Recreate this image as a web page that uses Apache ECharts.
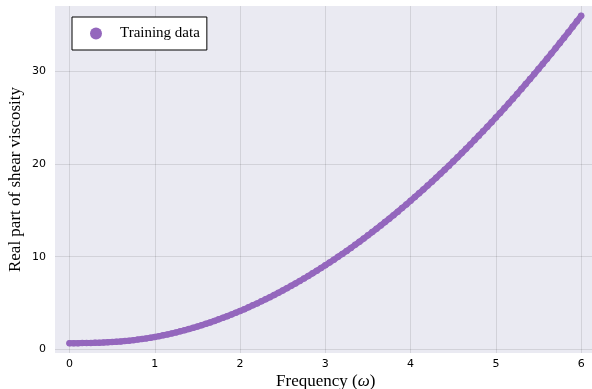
<!DOCTYPE html>
<html>
<head>
<meta charset="utf-8">
<script src="https://cdn.jsdelivr.net/npm/echarts@6/dist/echarts.min.js"></script>
<style>
html,body{margin:0;padding:0;background:#fff;}
#chart{width:592px;height:389px;}
</style>
</head>
<body>
<div id="chart"></div>
<script>
// Frequency values (omega) of the training data
const omega = [0.00,0.05,0.10,0.15,0.20,0.25,0.30,0.35,0.40,0.45,0.50,0.55,0.60,0.65,0.70,0.75,0.80,0.85,0.90,0.95,
1.00,1.05,1.10,1.15,1.20,1.25,1.30,1.35,1.40,1.45,1.50,1.55,1.60,1.65,1.70,1.75,1.80,1.85,1.90,1.95,
2.00,2.05,2.10,2.15,2.20,2.25,2.30,2.35,2.40,2.45,2.50,2.55,2.60,2.65,2.70,2.75,2.80,2.85,2.90,2.95,
3.00,3.05,3.10,3.15,3.20,3.25,3.30,3.35,3.40,3.45,3.50,3.55,3.60,3.65,3.70,3.75,3.80,3.85,3.90,3.95,
4.00,4.05,4.10,4.15,4.20,4.25,4.30,4.35,4.40,4.45,4.50,4.55,4.60,4.65,4.70,4.75,4.80,4.85,4.90,4.95,
5.00,5.05,5.10,5.15,5.20,5.25,5.30,5.35,5.40,5.45,5.50,5.55,5.60,5.65,5.70,5.75,5.80,5.85,5.90,5.95,6.00];
// Real part of shear viscosity
const etaReal = [0.650,0.651,0.654,0.658,0.665,0.674,0.686,0.702,0.720,0.743,0.770,0.802,0.838,0.879,0.926,0.979,1.036,1.100,1.169,1.244,
1.325,1.412,1.504,1.602,1.706,1.816,1.932,2.053,2.180,2.312,2.450,2.594,2.743,2.897,3.057,3.223,3.393,3.570,3.751,3.938,
4.130,4.327,4.530,4.738,4.951,5.170,5.393,5.622,5.856,6.095,6.340,6.589,6.844,7.104,7.368,7.638,7.914,8.194,8.479,8.770,
9.065,9.366,9.671,9.982,10.298,10.619,10.945,11.276,11.612,11.953,12.299,12.650,13.007,13.368,13.734,14.106,14.482,14.864,15.250,15.642,
16.038,16.440,16.847,17.258,17.675,18.097,18.523,18.955,19.392,19.834,20.281,20.732,21.189,21.651,22.118,22.590,23.067,23.549,24.036,24.528,
25.025,25.527,26.034,26.546,27.063,27.585,28.112,28.644,29.182,29.724,30.271,30.823,31.380,31.942,32.509,33.082,33.659,34.241,34.828,35.420,36.018];
const xTicks = [0,1,2,3,4,5,6];
const yTicks = [0,10,20,30];
const seriesName = 'Training data';

const points = omega.map((w, i) => [w, etaReal[i]]);
const purple = '#9467bd';

const chart = echarts.init(document.getElementById('chart'), null, {renderer: 'canvas'});
chart.setOption({
  animation: false,
  backgroundColor: '#ffffff',
  grid: {
    left: 55, top: 6, width: 541.5, height: 347,
    outerBoundsMode: 'none', containLabel: false,
    show: true, backgroundColor: '#eaeaf2', borderWidth: 0
  },
  legend: {
    data: [seriesName],
    left: 72, top: 17,
    orient: 'vertical',
    backgroundColor: '#ffffff',
    borderColor: '#000000', borderWidth: 1, borderRadius: 0,
    padding: [9, 7, 9, 18],
    itemWidth: 12, itemHeight: 12,
    icon: 'circle',
    textStyle: {fontFamily: 'Liberation Serif', fontSize: 15, color: '#000', padding: [0, 0, 0, 13]}
  },
  xAxis: {
    type: 'value', min: -0.17, max: 6.18,
    name: 'Frequency ({i|ω})',
    nameLocation: 'middle', nameGap: 20, nameMoveOverlap: false,
    nameTextStyle: {
      fontFamily: 'Liberation Serif', fontSize: 17, color: '#000',
      rich: {i: {fontFamily: 'Liberation Serif', fontSize: 17, fontStyle: 'italic', color: '#000'}}
    },
    axisLine: {show: false},
    axisTick: {show: false, customValues: xTicks},
    axisLabel: {customValues: xTicks, margin: 6, fontFamily: 'DejaVu Sans', fontSize: 11, color: '#000'},
    splitLine: {show: true, lineStyle: {color: 'rgba(0,0,0,0.1)', width: 1}}
  },
  yAxis: {
    type: 'value', min: -0.41, max: 37.08,
    name: 'Real part of shear viscosity',
    nameLocation: 'middle', nameGap: 31, nameMoveOverlap: false,
    nameTextStyle: {fontFamily: 'Liberation Serif', fontSize: 17, color: '#000'},
    axisLine: {show: false},
    axisTick: {show: false, customValues: yTicks},
    axisLabel: {customValues: yTicks, margin: 9, fontFamily: 'DejaVu Sans', fontSize: 11, color: '#000'},
    splitLine: {show: true, lineStyle: {color: 'rgba(0,0,0,0.1)', width: 1}}
  },
  series: [
    {
      name: 'band', type: 'line', data: points, showSymbol: false, silent: true,
      lineStyle: {color: purple, width: 6, cap: 'round', join: 'round'},
      itemStyle: {color: purple}, z: 2
    },
    {
      name: seriesName, type: 'scatter', data: points,
      symbol: 'circle', symbolSize: 6.5,
      itemStyle: {color: purple, opacity: 1}, z: 3
    }
  ]
});
</script>
</body>
</html>
